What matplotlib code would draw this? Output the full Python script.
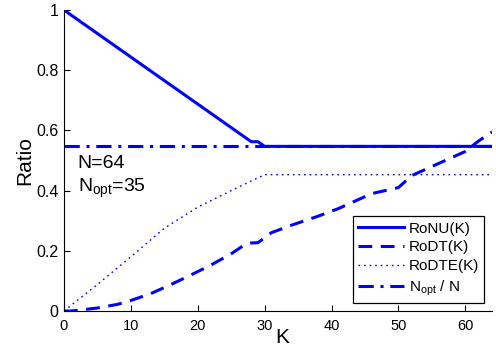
import matplotlib
matplotlib.use("Agg")
import matplotlib.pyplot as plt

plt.rcParams['font.family'] = ['Liberation Sans', 'DejaVu Sans']
plt.rcParams['mathtext.fontset'] = 'custom'
plt.rcParams['mathtext.rm'] = 'Liberation Sans'
plt.rcParams['mathtext.it'] = 'Liberation Sans'

# Data
k_ronu = [0, 28, 29, 30, 64]
ronu = [1.0, 0.5625, 0.5625, 0.547, 0.547]

k_rodt = [0, 1, 2, 5, 8, 10, 13, 16, 19, 22, 25, 27, 28, 29, 31, 34, 36, 38,
          41, 44, 46, 48, 50, 52, 55, 58, 60, 62, 64]
rodt = [0.0, 0.0, 0.002, 0.01, 0.022, 0.035, 0.058, 0.088, 0.12, 0.153, 0.19,
        0.22, 0.226, 0.227, 0.26, 0.285, 0.30, 0.315, 0.34, 0.37, 0.39, 0.40,
        0.41, 0.45, 0.48, 0.51, 0.53, 0.565, 0.595]

k_rodte = [0, 5, 10, 15, 20, 25, 28, 30, 64]
rodte = [0.0, 0.088, 0.18, 0.275, 0.345, 0.40, 0.432, 0.453, 0.453]

k_nopt = [0, 64]
nopt_ratio = [35 / 64, 35 / 64]

xticks = [0, 10, 20, 30, 40, 50, 60]
yticks = [0, 0.2, 0.4, 0.6, 0.8, 1]
yticklabels = ['0', '0.2', '0.4', '0.6', '0.8', '1']

fig = plt.figure(figsize=(4.96, 3.52), dpi=100)
ax = fig.add_axes([0.129, 0.1165, 0.863, 0.855])

blue = (0, 0, 1)
ax.plot(k_ronu, ronu, color=blue, lw=2.2, ls='-', label='RoNU(K)')
ax.plot(k_rodt, rodt, color=blue, lw=2.2, ls=(0, (4.5, 2.8)), label='RoDT(K)')
ax.plot(k_rodte, rodte, color=blue, lw=1.0, ls=(0, (1.2, 2.8)), label='RoDTE(K)')
ax.plot(k_nopt, nopt_ratio, color=blue, lw=2.2, ls=(0, (5, 2.2, 1, 2.2)),
        label=r'N$_{\mathrm{opt}}$ / N')

ax.set_xlim(0, 64)
ax.set_ylim(0, 1)
ax.set_xticks(xticks)
ax.set_yticks(yticks)
ax.set_yticklabels(yticklabels)
ax.tick_params(direction='in', length=4, width=0.8)
ax.tick_params(axis='x', labelsize=10.5, pad=6)
ax.tick_params(axis='y', labelsize=11.5, pad=4)
for s in ['top', 'right']:
    ax.spines[s].set_visible(False)
ax.spines['left'].set_linewidth(0.8)
ax.spines['bottom'].set_linewidth(0.8)

ax.set_xlabel('K', fontsize=15)
ax.xaxis.set_label_coords(0.51, -0.087, transform=ax.transAxes)
ax.xaxis.label.set_va('center')
ax.set_ylabel('Ratio', fontsize=15, labelpad=1)

ax.text(0.032, 0.475, 'N=64', transform=ax.transAxes, fontsize=14, va='baseline')
ax.text(0.032, 0.395, r'N$_{\mathrm{opt}}$=35', transform=ax.transAxes, fontsize=14, va='baseline')

leg = ax.legend(loc='lower right', bbox_to_anchor=(0.982, 0.027), fontsize=11,
                frameon=True, fancybox=False, edgecolor='black', framealpha=1,
                handlelength=3.0, handletextpad=0.3, labelspacing=0.32,
                borderpad=0.35, borderaxespad=0.0)
leg.get_frame().set_linewidth(0.9)

fig.savefig('out.png', dpi=100)
